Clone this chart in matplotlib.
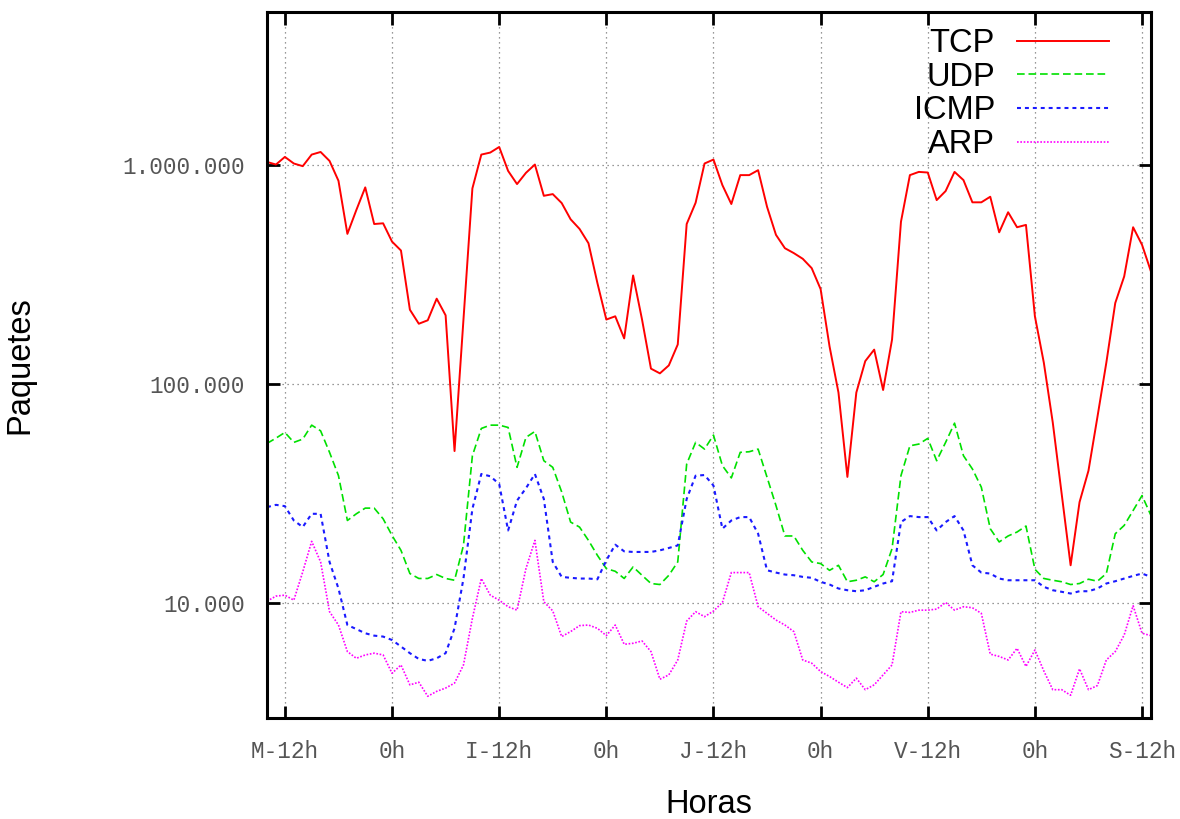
import numpy as np
import matplotlib
matplotlib.use('Agg')
import matplotlib.pyplot as plt

# hourly samples, hours counted from Tuesday 0h
horas = np.arange(10, 110)

tcp = [1035000, 1007000, 1091000, 1018000, 990000, 1118000, 1149000, 1046000, 849000, 486000,
       624000, 792000, 539000, 543000, 448000, 408000, 219000, 189000, 196000, 246000,
       206500, 49600, 197500, 783500, 1118000, 1142000, 1211000, 942000, 820000, 923000,
       1007000, 725000, 738000, 672000, 566500, 512000, 440500, 290000, 197500, 204400,
       162000, 314000, 197500, 117900, 112200, 122000, 152000, 539000, 674000, 1018000,
       1061000, 811000, 665000, 901000, 901000, 949000, 646000, 481000, 418000, 397000,
       374000, 339000, 272000, 149000, 91700, 37800, 91700, 127600, 144000, 94200,
       160000, 552000, 901000, 932000, 926000, 693000, 762000, 932000, 855000, 677000,
       677000, 718000, 494000, 610000, 521000, 534000, 204400, 125500, 67000, 31600,
       14930, 29000, 40360, 70800, 125500, 235000, 310700, 521000, 433000, 327000]

udp = [53760, 56800, 60320, 54330, 56230, 65120, 61340, 48930, 38310, 23910,
       25650, 27230, 27230, 24340, 20440, 17470, 13690, 13000, 13000, 13550,
       13000, 12760, 18410, 47220, 62890, 65120, 65120, 63550, 41800, 57260,
       60950, 44800, 41800, 32280, 23510, 22310, 19400, 16580, 14420, 14020,
       13000, 14680, 13440, 12330, 12200, 13440, 15470, 43290, 54330, 50630,
       58640, 42550, 37400, 48930, 49240, 50630, 37670, 27980, 20320, 20320,
       17470, 15470, 15200, 14160, 14930, 12560, 12760, 13220, 12560, 13550,
       17780, 38310, 52420, 53370, 56650, 44800, 54330, 66500, 47220, 41090,
       33920, 21930, 19080, 20320, 21180, 22560, 14320, 13000, 12760, 12560,
       12200, 12330, 12900, 12630, 13690, 20800, 22700, 26550, 31070, 25200]

icmp = [27510, 28180, 27800, 23910, 22320, 25650, 25650, 15470, 11700, 7970,
        7640, 7310, 7130, 7060, 6810, 6360, 5930, 5580, 5470, 5620,
        5930, 7700, 12990, 27030, 38980, 38060, 35090, 21530, 29480, 33570,
        38980, 29990, 15470, 13220, 13090, 12990, 12990, 12890, 15730, 18540,
        17290, 17180, 17180, 17180, 17470, 17910, 18400, 29990, 38280, 38550,
        34500, 21930, 23910, 24780, 24780, 20810, 14170, 13830, 13550, 13450,
        13220, 13090, 12550, 12200, 11700, 11490, 11370, 11490, 11910, 12330,
        12630, 23510, 25040, 24780, 24780, 21530, 23510, 25040, 21530, 14930,
        13830, 13690, 12990, 12760, 12760, 12760, 12760, 11910, 11490, 11300,
        11100, 11370, 11370, 11700, 12330, 12630, 12990, 13360, 13690, 13220]

arp = [10240, 10800, 10910, 10350, 13940, 19200, 15470, 9170, 7970, 6030,
       5620, 5820, 5930, 5820, 4800, 5240, 4250, 4370, 3770, 3970,
       4110, 4330, 5240, 8550, 12990, 10910, 10350, 9660, 9320, 14430,
       19400, 10180, 9250, 7060, 7440, 7920, 7970, 7700, 7130, 7970,
       6510, 6580, 6740, 6030, 4510, 4720, 5520, 8310, 9170, 8700,
       9230, 10100, 13830, 13830, 13830, 9660, 9010, 8400, 7970, 7440,
       5520, 5340, 4890, 4640, 4370, 4130, 4560, 4040, 4250, 4720,
       5240, 9170, 9100, 9320, 9320, 9420, 10100, 9320, 9660, 9560,
       9010, 5870, 5730, 5520, 6240, 5160, 6130, 4920, 4040, 4040,
       3810, 5030, 4040, 4220, 5520, 6030, 7180, 9760, 7310, 7130]

xtick_pos = [12, 24, 36, 48, 60, 72, 84, 96, 108]
xtick_labels = ['M-12h', '0h', 'I-12h', '0h', 'J-12h', '0h', 'V-12h', '0h', 'S-12h']
ytick_pos = [1e4, 1e5, 1e6]
ytick_labels = ['10.000', '100.000', '1.000.000']

fig = plt.figure(figsize=(11.8, 8.19), dpi=100)
ax = fig.add_axes([0.2263, 0.1233, 0.7491, 0.862])

ax.plot(horas, tcp, color='#ff0000', lw=1.4, label='TCP')
ax.plot(horas, udp, color='#00e000', lw=1.2, dashes=(4.6, 2.3), label='UDP')
ax.plot(horas, icmp, color='#1a1aff', lw=1.5, dashes=(1.9, 1.9), label='ICMP')
ax.plot(horas, arp, color='#ff00ff', lw=1.2, dashes=(1.0, 1.0), label='ARP')

ax.set_yscale('log')
ax.set_xlim(10, 109)
ax.set_ylim(3000, 5e6)
ax.minorticks_off()

ax.set_xticks(xtick_pos)
ax.set_xticklabels(xtick_labels)
ax.set_yticks(ytick_pos)
ax.set_yticklabels(ytick_labels)

for lab in ax.get_xticklabels() + ax.get_yticklabels():
    lab.set_family('Liberation Mono')
    lab.set_fontsize(16.4)
    lab.set_color('#555555')

ax.tick_params(which='major', direction='in', length=9, width=2,
               top=True, right=True, pad=16)
ax.grid(True, color='#777777', linestyle=(0, (1, 3)), linewidth=0.9)
for s in ax.spines.values():
    s.set_linewidth(2.2)

ax.set_xlabel('Horas', fontsize=23.5, family='Liberation Sans')
ax.set_ylabel('Paquetes', fontsize=23.5, family='Liberation Sans')
ax.xaxis.set_label_coords(0.5, -0.1)
ax.yaxis.set_label_coords(-0.262, 0.5)

leg = ax.legend(loc='upper right', bbox_to_anchor=(0.9525, 0.977), frameon=False,
                markerfirst=False, handlelength=2.82, handletextpad=0.67,
                labelspacing=0.08, borderpad=0, borderaxespad=0,
                prop={'family': 'Liberation Sans', 'size': 23.5})

fig.savefig('out.png', dpi=100)
